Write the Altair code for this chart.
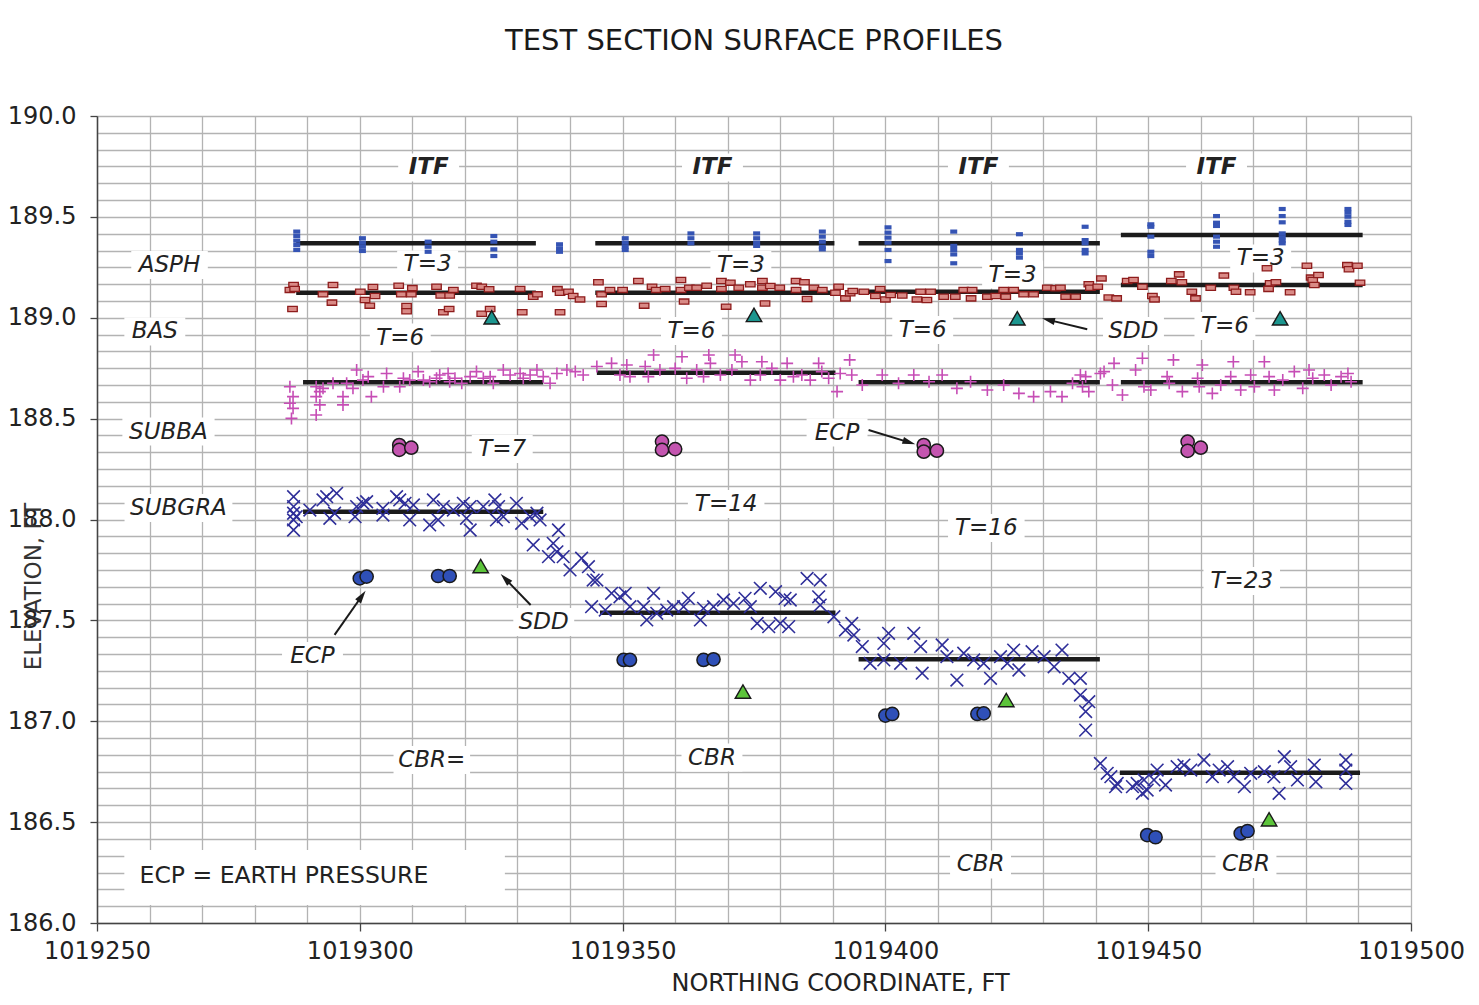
import math
import altair as alt
import pandas as pd

W, H = 1314, 807
X_MIN, X_MAX = 1019250, 1019500
Y_MIN, Y_MAX = 186.0, 190.0
PX_X = W / (X_MAX - X_MIN)
PX_Y = H / (Y_MAX - Y_MIN)
FONT = "DejaVu Sans"
TXT = "#222222"

# ---------------- data ----------------
asph_cols = [1019288.0, 1019300.5, 1019313.0, 1019325.5, 1019338.0, 1019350.5, 1019363.0,
             1019375.5, 1019388.0, 1019400.5, 1019413.0, 1019425.5, 1019438.0, 1019450.5,
             1019463.0, 1019475.5, 1019488.0]
asph_vals = [
    [189.427, 189.405, 189.382, 189.360, 189.336],
    [189.394, 189.372, 189.352, 189.331],
    [189.377, 189.352, 189.327],
    [189.405, 189.377, 189.339, 189.306],
    [189.364, 189.344, 189.327],
    [189.394, 189.372, 189.352, 189.336],
    [189.418, 189.394, 189.369],
    [189.418, 189.394, 189.372, 189.356],
    [189.427, 189.402, 189.377, 189.352, 189.339],
    [189.448, 189.422, 189.397, 189.372, 189.336, 189.281],
    [189.427, 189.356, 189.336, 189.314, 189.270],
    [189.414, 189.336, 189.319, 189.298],
    [189.451, 189.385, 189.369, 189.336, 189.319],
    [189.463, 189.451, 189.402, 189.327, 189.306],
    [189.504, 189.471, 189.455, 189.402, 189.377, 189.352],
    [189.539, 189.504, 189.473, 189.418, 189.399, 189.382, 189.369],
    [189.539, 189.521, 189.501, 189.476, 189.460],
]

bas_pts = [
    (1019287.4, 189.162), (1019286.7, 189.138), (1019287.6, 189.143), (1019287.2, 189.043),
    (1019293.0, 189.116), (1019294.9, 189.162), (1019294.7, 189.075), (1019300.1, 189.129),
    (1019301.0, 189.088), (1019301.9, 189.060), (1019302.5, 189.152), (1019302.9, 189.108),
    (1019307.4, 189.159), (1019307.9, 189.116), (1019308.9, 189.058), (1019308.9, 189.032),
    (1019310.0, 189.147), (1019309.8, 189.116), (1019314.6, 189.154), (1019315.4, 189.110),
    (1019317.1, 189.110), (1019317.8, 189.138), (1019315.9, 189.027), (1019317.0, 189.043),
    (1019322.2, 189.159), (1019323.2, 189.154), (1019324.6, 189.141), (1019323.2, 189.020),
    (1019324.8, 189.043), (1019330.5, 189.143), (1019330.9, 189.027), (1019333.0, 189.104),
    (1019333.8, 189.116),
    (1019337.6, 189.142), (1019338.1, 189.124), (1019339.7, 189.129), (1019340.6, 189.108),
    (1019341.9, 189.091), (1019338.1, 189.027), (1019345.4, 189.176), (1019346.0, 189.116),
    (1019346.0, 189.068), (1019347.6, 189.138), (1019350.0, 189.138), (1019353.0, 189.182),
    (1019354.1, 189.060), (1019355.6, 189.154), (1019356.4, 189.138), (1019358.1, 189.143),
    (1019361.1, 189.187), (1019361.1, 189.138), (1019361.7, 189.080), (1019362.7, 189.149),
    (1019364.1, 189.149), (1019366.0, 189.159), (1019368.8, 189.182), (1019368.8, 189.143),
    (1019370.5, 189.174), (1019369.7, 189.055), (1019372.1, 189.149), (1019374.3, 189.166),
    (1019376.6, 189.182), (1019376.6, 189.149), (1019378.1, 189.157), (1019377.1, 189.071),
    (1019379.9, 189.149), (1019383.0, 189.182), (1019383.0, 189.138), (1019384.6, 189.176),
    (1019385.1, 189.093), (1019386.4, 189.149), (1019388.0, 189.138), (1019391.1, 189.154),
    (1019390.5, 189.124), (1019392.4, 189.096), (1019393.3, 189.121), (1019393.8, 189.133),
    (1019395.9, 189.129), (1019399.0, 189.143), (1019398.1, 189.108), (1019400.0, 189.091),
    (1019401.0, 189.113), (1019403.2, 189.110), (1019406.0, 189.091), (1019406.7, 189.129),
    (1019408.6, 189.129), (1019407.9, 189.088), (1019411.1, 189.104), (1019413.3, 189.104),
    (1019414.9, 189.138), (1019416.5, 189.138), (1019416.3, 189.096), (1019419.4, 189.104),
    (1019421.0, 189.108), (1019422.5, 189.138), (1019422.9, 189.104),
    (1019424.4, 189.138), (1019426.3, 189.116), (1019428.2, 189.116), (1019430.8, 189.149),
    (1019432.4, 189.146), (1019433.3, 189.149), (1019434.3, 189.104), (1019436.2, 189.104),
    (1019438.7, 189.166), (1019439.0, 189.149), (1019440.4, 189.154), (1019441.1, 189.195),
    (1019442.5, 189.100), (1019444.0, 189.096), (1019446.0, 189.182), (1019447.2, 189.187),
    (1019448.9, 189.154), (1019450.8, 189.108), (1019451.2, 189.091), (1019454.4, 189.182),
    (1019455.9, 189.215), (1019456.4, 189.176), (1019458.3, 189.129), (1019459.0, 189.096),
    (1019461.9, 189.149), (1019464.4, 189.209), (1019466.3, 189.149), (1019466.7, 189.129),
    (1019469.4, 189.126), (1019472.6, 189.245), (1019472.9, 189.143), (1019473.2, 189.171),
    (1019474.3, 189.176), (1019477.0, 189.126), (1019480.2, 189.258), (1019481.0, 189.199),
    (1019481.3, 189.187), (1019482.4, 189.212), (1019481.6, 189.162), (1019487.9, 189.261),
    (1019488.2, 189.240), (1019489.8, 189.258), (1019490.3, 189.174),
]

subba_pts = [
    (1019286.7, 188.658), (1019287.3, 188.609), (1019286.7, 188.576), (1019287.3, 188.551),
    (1019287.0, 188.501), (1019291.7, 188.658), (1019292.4, 188.634), (1019293.0, 188.650),
    (1019291.7, 188.609), (1019292.4, 188.568), (1019291.7, 188.518), (1019294.9, 188.675),
    (1019296.8, 188.609), (1019296.8, 188.568), (1019297.5, 188.675), (1019298.7, 188.650),
    (1019299.4, 188.741), (1019300.6, 188.691), (1019301.6, 188.708), (1019302.2, 188.609),
    (1019304.5, 188.658), (1019305.1, 188.724), (1019307.6, 188.658), (1019308.3, 188.700),
    (1019309.5, 188.691), (1019311.1, 188.733), (1019312.1, 188.691), (1019313.3, 188.683),
    (1019314.6, 188.700), (1019315.2, 188.716), (1019316.8, 188.724), (1019317.1, 188.683),
    (1019318.1, 188.700), (1019319.4, 188.675), (1019321.0, 188.708), (1019322.2, 188.733),
    (1019323.5, 188.700), (1019324.8, 188.708), (1019325.4, 188.675), (1019327.3, 188.741),
    (1019328.6, 188.716), (1019330.5, 188.724), (1019331.1, 188.700), (1019332.4, 188.716),
    (1019333.7, 188.741), (1019334.9, 188.708),
    (1019336.2, 188.675), (1019337.5, 188.724), (1019339.4, 188.741), (1019341.0, 188.733),
    (1019342.5, 188.716), (1019345.1, 188.758), (1019347.9, 188.774), (1019349.5, 188.716),
    (1019350.8, 188.766), (1019351.4, 188.708), (1019354.3, 188.758), (1019354.9, 188.708),
    (1019355.9, 188.815), (1019357.1, 188.741), (1019360.0, 188.749), (1019361.3, 188.807),
    (1019362.2, 188.700), (1019364.1, 188.741), (1019365.4, 188.708), (1019366.4, 188.815),
    (1019366.7, 188.774), (1019368.6, 188.716), (1019370.8, 188.741), (1019371.4, 188.815),
    (1019372.7, 188.782), (1019374.3, 188.691), (1019376.2, 188.716), (1019376.5, 188.782),
    (1019378.4, 188.749), (1019380.0, 188.691), (1019381.3, 188.774), (1019382.5, 188.708),
    (1019384.1, 188.716), (1019385.7, 188.691), (1019387.3, 188.774), (1019387.9, 188.733),
    (1019389.2, 188.700), (1019390.8, 188.634), (1019391.4, 188.724), (1019393.2, 188.791),
    (1019393.6, 188.716), (1019395.6, 188.667), (1019399.4, 188.716), (1019402.5, 188.675),
    (1019405.4, 188.716), (1019408.3, 188.683), (1019410.8, 188.716), (1019413.6, 188.650),
    (1019416.2, 188.683), (1019419.4, 188.642), (1019422.5, 188.667),
    (1019425.4, 188.625), (1019428.2, 188.609), (1019431.4, 188.634), (1019433.6, 188.609),
    (1019435.6, 188.675), (1019437.1, 188.716), (1019437.5, 188.658), (1019438.1, 188.708),
    (1019438.7, 188.634), (1019440.9, 188.724), (1019441.6, 188.733), (1019443.5, 188.774),
    (1019443.2, 188.667), (1019445.1, 188.617), (1019447.6, 188.741), (1019448.9, 188.799),
    (1019449.2, 188.658), (1019450.5, 188.642), (1019453.6, 188.708), (1019454.8, 188.791),
    (1019454.0, 188.675), (1019456.5, 188.634), (1019459.4, 188.700), (1019460.3, 188.766),
    (1019459.7, 188.658), (1019462.2, 188.625), (1019463.8, 188.667), (1019465.7, 188.708),
    (1019466.2, 188.782), (1019467.6, 188.642), (1019469.5, 188.716), (1019470.2, 188.658),
    (1019472.1, 188.782), (1019473.0, 188.708), (1019474.0, 188.642), (1019475.6, 188.691),
    (1019477.8, 188.733), (1019479.4, 188.650), (1019480.6, 188.741), (1019481.3, 188.700),
    (1019483.5, 188.716), (1019484.8, 188.667), (1019486.7, 188.708), (1019488.0, 188.724),
    (1019488.6, 188.683),
]

subgra_pts = [
    (1019287.4, 188.113), (1019287.4, 188.064), (1019287.4, 188.031), (1019287.4, 187.998),
    (1019287.4, 187.948), (1019287.9, 188.014), (1019290.5, 188.047), (1019293.0, 188.097),
    (1019293.7, 188.113), (1019295.6, 188.130), (1019294.3, 188.006), (1019295.2, 188.031),
    (1019299.4, 188.064), (1019300.6, 188.080), (1019301.3, 188.088), (1019299.1, 188.014),
    (1019304.4, 188.055), (1019304.4, 188.022), (1019307.0, 188.113), (1019307.6, 188.097),
    (1019308.6, 188.080), (1019309.5, 187.998), (1019310.2, 188.072), (1019314.0, 188.097),
    (1019315.9, 188.064), (1019313.3, 187.973), (1019314.9, 187.998), (1019317.8, 188.047),
    (1019319.7, 188.080), (1019321.0, 188.064), (1019320.3, 188.006), (1019321.0, 187.948),
    (1019323.5, 188.064), (1019325.7, 188.097), (1019326.4, 188.064), (1019326.0, 187.998),
    (1019327.3, 188.014), (1019329.8, 188.080), (1019330.8, 187.981), (1019332.4, 188.014),
    (1019333.7, 188.031), (1019334.3, 187.998), (1019333.0, 187.874), (1019335.9, 187.816),
    (1019337.8, 187.948), (1019336.8, 187.882), (1019337.5, 187.840), (1019338.7, 187.816),
    (1019340.0, 187.750), (1019342.2, 187.808), (1019343.5, 187.766), (1019344.4, 187.700),
    (1019345.1, 187.700), (1019344.1, 187.568), (1019346.7, 187.551), (1019347.9, 187.634),
    (1019349.5, 187.617), (1019350.5, 187.634), (1019351.4, 187.568), (1019354.0, 187.568),
    (1019354.6, 187.502), (1019355.9, 187.634), (1019356.5, 187.535), (1019358.4, 187.551),
    (1019359.7, 187.568), (1019361.6, 187.568), (1019362.5, 187.609), (1019364.8, 187.502),
    (1019365.4, 187.560), (1019367.3, 187.568), (1019369.2, 187.601), (1019371.1, 187.584),
    (1019373.3, 187.609), (1019374.3, 187.568), (1019376.2, 187.659), (1019375.6, 187.485),
    (1019377.8, 187.469), (1019379.1, 187.642), (1019380.0, 187.485), (1019380.9, 187.609),
    (1019381.9, 187.601), (1019381.6, 187.469), (1019385.1, 187.708), (1019387.6, 187.700),
    (1019387.3, 187.617), (1019387.6, 187.576), (1019390.2, 187.518), (1019392.4, 187.452),
    (1019393.6, 187.485), (1019394.0, 187.427), (1019395.6, 187.370), (1019397.1, 187.287),
    (1019399.7, 187.386), (1019400.6, 187.436), (1019399.7, 187.304), (1019402.9, 187.287),
    (1019405.4, 187.436), (1019406.7, 187.370), (1019407.0, 187.238), (1019410.8, 187.378),
    (1019411.7, 187.320), (1019413.6, 187.204), (1019414.9, 187.337), (1019416.8, 187.304),
    (1019418.7, 187.287), (1019420.0, 187.213), (1019421.9, 187.320), (1019423.2, 187.287),
    (1019424.4, 187.353), (1019425.4, 187.254), (1019427.9, 187.345), (1019430.2, 187.320),
    (1019432.1, 187.270), (1019433.6, 187.353), (1019434.9, 187.213), (1019437.1, 187.213),
    (1019437.1, 187.130), (1019438.7, 187.097), (1019438.1, 187.048), (1019438.1, 186.956),
    (1019440.9, 186.791), (1019442.2, 186.742), (1019442.9, 186.725), (1019443.8, 186.676),
    (1019444.1, 186.692), (1019447.0, 186.676), (1019447.9, 186.692), (1019448.9, 186.643),
    (1019449.2, 186.709), (1019449.8, 186.659), (1019451.1, 186.709), (1019451.7, 186.758),
    (1019453.3, 186.684), (1019455.5, 186.775), (1019456.8, 186.783), (1019458.1, 186.758),
    (1019460.6, 186.808), (1019462.2, 186.725), (1019463.5, 186.758), (1019465.1, 186.775),
    (1019466.3, 186.725), (1019468.3, 186.676), (1019469.5, 186.742), (1019472.1, 186.750),
    (1019473.9, 186.725), (1019474.9, 186.643), (1019475.9, 186.824), (1019477.1, 186.775),
    (1019478.4, 186.709), (1019481.6, 186.783), (1019481.9, 186.700), (1019487.6, 186.808),
    (1019487.6, 186.758), (1019487.6, 186.692),
]

ecp_base_pts = [(1019307.5, 188.369), (1019307.5, 188.345), (1019309.8, 188.356),
                (1019357.5, 188.386), (1019357.5, 188.345), (1019360.0, 188.349),
                (1019407.3, 188.369), (1019407.3, 188.336), (1019409.8, 188.341),
                (1019457.5, 188.386), (1019457.5, 188.340), (1019460.0, 188.356)]
ecp_sub_pts = [(1019300.0, 187.708), (1019301.3, 187.717), (1019314.9, 187.720), (1019317.1, 187.720),
               (1019350.2, 187.304), (1019351.4, 187.304), (1019365.4, 187.304), (1019367.3, 187.307),
               (1019400.0, 187.028), (1019401.3, 187.036), (1019417.5, 187.036), (1019418.7, 187.039),
               (1019449.8, 186.436), (1019451.4, 186.425), (1019467.6, 186.444), (1019468.9, 186.456)]
sdd_base_pts = [(1019325.1, 189.002), (1019375.0, 189.014), (1019425.1, 188.997), (1019475.1, 188.997)]
sdd_sub_pts = [(1019323.0, 187.769), (1019372.9, 187.147), (1019423.0, 187.105), (1019473.0, 186.514)]

# section mean elevations (black bars)
mean_x1 = [1019287.9, 1019344.8, 1019394.9, 1019444.8] * 2 + [1019289.2, 1019345.1, 1019394.9, 1019444.8] + [1019289.2, 1019345.7, 1019394.9, 1019444.6]
mean_x2 = [1019333.5, 1019390.3, 1019440.8, 1019490.8] * 2 + [1019334.9, 1019390.5, 1019440.8, 1019490.8] + [1019334.9, 1019390.5, 1019440.8, 1019490.3]
mean_y = [189.369, 189.369, 189.369, 189.410,
          189.124, 189.124, 189.129, 189.162,
          188.680, 188.728, 188.680, 188.680,
          188.039, 187.538, 187.307, 186.745]

# annotations
lab_text = ["ASPH", "BAS", "SUBBA", "SUBGRA",
            "T=3", "T=3", "T=3", "T=3", "T=6", "T=6", "T=6", "T=6",
            "T=7", "T=14", "T=16", "T=23", "SDD", "SDD", "ECP", "ECP",
            "CBR=", "CBR", "CBR", "CBR"]
lab_x = [1019263.8, 1019261.0, 1019263.6, 1019265.5,
         1019312.9, 1019372.5, 1019424.2, 1019471.4, 1019307.7, 1019363.1, 1019407.1, 1019464.6,
         1019327.1, 1019369.7, 1019419.2, 1019467.8, 1019335.0, 1019447.2, 1019291.0, 1019390.8,
         1019313.7, 1019367.0, 1019418.1, 1019468.6]
lab_y = [189.261, 188.932, 188.436, 188.057,
         189.264, 189.261, 189.214, 189.294, 188.902, 188.934, 188.939, 188.959,
         188.349, 188.077, 187.958, 187.695, 187.492, 188.934, 187.323, 188.431,
         186.808, 186.820, 186.290, 186.292]
itf_x = [1019313.1, 1019367.1, 1019417.7, 1019463.0]
itf_y = [189.745, 189.745, 189.745, 189.745]
legend_text = "ECP = EARTH PRESSURE"
legend_pos = (1019258.1, 186.233)
legend_box = (1019255.2, 1019327.6, 186.089, 186.362)

arr_tail = [(1019295.2, 187.428), (1019332.5, 187.576), (1019396.8, 188.444), (1019438.4, 188.943)]
arr_head = [(1019301.1, 187.647), (1019326.8, 187.730), (1019405.7, 188.373), (1019429.8, 188.997)]

# ---------------- tables ----------------
asph_df = pd.DataFrame([(cx, v) for cx, vs in zip(asph_cols, asph_vals) for v in vs], columns=["x", "y"])
bas_df = pd.DataFrame(bas_pts, columns=["x", "y"])
subba_df = pd.DataFrame(subba_pts, columns=["x", "y"])
subgra_df = pd.DataFrame(subgra_pts, columns=["x", "y"])
ecpb_df = pd.DataFrame(ecp_base_pts, columns=["x", "y"])
ecps_df = pd.DataFrame(ecp_sub_pts, columns=["x", "y"])
sddb_df = pd.DataFrame(sdd_base_pts, columns=["x", "y"])
sdds_df = pd.DataFrame(sdd_sub_pts, columns=["x", "y"])
mean_df = pd.DataFrame({"x": mean_x1, "x2": mean_x2, "y": mean_y})
lab_df = pd.DataFrame({"x": lab_x, "y": lab_y, "t": lab_text})
itf_df = pd.DataFrame({"x": itf_x, "y": itf_y, "t": ["ITF"] * 4})
leg_df = pd.DataFrame({"x": [legend_pos[0]], "y": [legend_pos[1]], "t": [legend_text]})

# white text boxes behind labels
boxes = []
for t, x, y in list(zip(lab_text, lab_x, lab_y)) + list(zip(["ITF"] * 4, itf_x, itf_y)):
    wpx = len(t) * 0.68 * 23 + 14
    hpx = 28
    boxes.append((x - wpx / 2 / PX_X, x + wpx / 2 / PX_X, y - hpx / 2 / PX_Y, y + hpx / 2 / PX_Y))
boxes.append((legend_box[0], legend_box[1], legend_box[2], legend_box[3]))
box_df = pd.DataFrame(boxes, columns=["x", "x2", "y", "y2"])

# arrows
HEAD = 13.0
arr_rows, head_rows = [], []
for (tx, ty), (hx, hy) in zip(arr_tail, arr_head):
    dxp = (hx - tx) * PX_X
    dyp = -(hy - ty) * PX_Y
    L = math.hypot(dxp, dyp)
    ux, uy = dxp / L, dyp / L
    cx = hx - ux * HEAD / 2 / PX_X
    cy = hy + uy * HEAD / 2 / PX_Y
    ang = math.degrees(math.atan2(ux, -uy)) % 360
    arr_rows.append((tx, ty, cx, cy))
    head_rows.append((cx, cy, ang))
arr_df = pd.DataFrame(arr_rows, columns=["x", "y", "x2", "y2"])
head_df = pd.DataFrame(head_rows, columns=["x", "y", "ang"])

# ---------------- axes ----------------
x_ticks = list(range(X_MIN, X_MAX + 1, 10))
y_ticks = [round(Y_MIN + i / 12, 6) for i in range(49)]
y_major = "abs(datum.value * 2 - round(datum.value * 2)) < 0.001"

x_axis = alt.Axis(
    values=x_ticks, grid=True, gridColor="#b3b3b3", gridWidth=1.3,
    domainColor="#444444", domainWidth=1.5,
    tickColor="#444444", tickWidth=1.3, tickSize=8,
    tickOpacity={"condition": {"test": "datum.value % 50 == 0", "value": 1}, "value": 0},
    labelExpr="datum.value % 50 == 0 ? format(datum.value, 'd') : ''",
    labelFont=FONT, labelFontSize=24, labelColor=TXT, labelPadding=8,
    labelOverlap=False, labelFlush=False,
    title="NORTHING COORDINATE, FT", titleFont=FONT, titleFontSize=24,
    titleFontWeight="normal", titleColor=TXT,
    titleX=743, titleY=60, titleAlign="center", titleBaseline="middle",
)
y_axis = alt.Axis(
    values=y_ticks, grid=True, gridColor="#b3b3b3", gridWidth=1.3,
    domainColor="#444444", domainWidth=1.5,
    tickColor="#444444", tickWidth=1.3, tickSize=7,
    tickOpacity={"condition": {"test": y_major, "value": 1}, "value": 0},
    labelExpr=y_major + " ? format(datum.value, '.1f') : ''",
    labelFont=FONT, labelFontSize=24, labelColor=TXT, labelPadding=14,
    labelOverlap=False, labelFlush=False,
    title="ELEVATION, FT", titleFont=FONT, titleFontSize=23,
    titleFontWeight="normal", titleColor="#333333",
    titleAngle=270, titleX=-64, titleY=470, titleAlign="center", titleBaseline="middle",
)

X = alt.X("x:Q", scale=alt.Scale(domain=[X_MIN, X_MAX], nice=False, zero=False), axis=x_axis)
Y = alt.Y("y:Q", scale=alt.Scale(domain=[Y_MIN, Y_MAX], nice=False, zero=False), axis=y_axis)

# ---------------- layers ----------------
box_layer = alt.Chart(box_df).mark_rect(color="white").encode(x=X, x2="x2:Q", y=Y, y2="y2:Q")
mean_layer = alt.Chart(mean_df).mark_rule(color="#1b1b1b", strokeWidth=4.5).encode(x=X, x2="x2:Q", y=Y)

asph_layer = alt.Chart(asph_df).mark_point(
    shape="M-1,-0.6H1V0.6H-1Z", filled=True, size=49, color="#3554b4", opacity=1
).encode(x=X, y=Y)
bas_layer = alt.Chart(bas_df).mark_point(
    shape="M-1,-0.55H1V0.55H-1Z", filled=True, size=90, fill="#d98a86",
    stroke="#8e1c1c", strokeWidth=1.3, opacity=1
).encode(x=X, y=Y)
subba_layer = alt.Chart(subba_df).mark_point(
    shape="M-1,0H1M0,-1V1", filled=False, size=144, stroke="#c64db5", strokeWidth=1.6, opacity=1
).encode(x=X, y=Y)
subgra_layer = alt.Chart(subgra_df).mark_point(
    shape="M-1,-1L1,1M-1,1L1,-1", filled=False, size=160, stroke="#2e2e99", strokeWidth=1.6, opacity=1
).encode(x=X, y=Y)
ecpb_layer = alt.Chart(ecpb_df).mark_point(
    shape="circle", filled=True, size=175, fill="#c455b0", stroke="#1a1a1a", strokeWidth=1.5, opacity=1
).encode(x=X, y=Y)
ecps_layer = alt.Chart(ecps_df).mark_point(
    shape="circle", filled=True, size=175, fill="#2f50b8", stroke="#1a1a1a", strokeWidth=1.5, opacity=1
).encode(x=X, y=Y)
sddb_layer = alt.Chart(sddb_df).mark_point(
    shape="triangle-up", filled=True, size=240, fill="#1c968f", stroke="#1a1a1a", strokeWidth=1.4, opacity=1
).encode(x=X, y=Y)
sdds_layer = alt.Chart(sdds_df).mark_point(
    shape="triangle-up", filled=True, size=240, fill="#5cc43a", stroke="#1a1a1a", strokeWidth=1.4, opacity=1
).encode(x=X, y=Y)

arrow_layer = alt.Chart(arr_df).mark_rule(color="#1a1a1a", strokeWidth=2).encode(
    x=X, y=Y, x2="x2:Q", y2="y2:Q")
head_layer = alt.Chart(head_df).mark_point(
    shape="M0,-1L0.55,1L-0.55,1Z", filled=True, size=HEAD * HEAD, color="#1a1a1a", opacity=1
).encode(x=X, y=Y, angle=alt.Angle("ang:Q", scale=None))

lab_layer = alt.Chart(lab_df).mark_text(
    font=FONT, fontSize=23, fontStyle="italic", color=TXT, align="center", baseline="middle"
).encode(x=X, y=Y, text="t:N")
itf_layer = alt.Chart(itf_df).mark_text(
    font=FONT, fontSize=23, fontStyle="italic", fontWeight="bold", color=TXT, align="center", baseline="middle"
).encode(x=X, y=Y, text="t:N")
leg_layer = alt.Chart(leg_df).mark_text(
    font=FONT, fontSize=23.5, color=TXT, align="left", baseline="middle"
).encode(x=X, y=Y, text="t:N")

chart = alt.layer(
    box_layer, mean_layer, asph_layer, bas_layer, subba_layer, subgra_layer,
    ecpb_layer, ecps_layer, sddb_layer, sdds_layer, arrow_layer, head_layer,
    lab_layer, itf_layer, leg_layer,
).properties(
    width=W, height=H,
    title=alt.TitleParams("TEST SECTION SURFACE PROFILES", font=FONT, fontSize=29,
                          fontWeight="normal", color="#1a1a1a", anchor="middle",
                          frame="group", offset=48),
    autosize=alt.AutoSizeParams(type="none"),
    padding={"left": 89, "top": 108, "right": 60, "bottom": 74},
).configure_view(stroke="#555555", strokeWidth=1.5).configure(background="white")

chart.save("out.html", embed_options={"renderer": "svg", "actions": False})
